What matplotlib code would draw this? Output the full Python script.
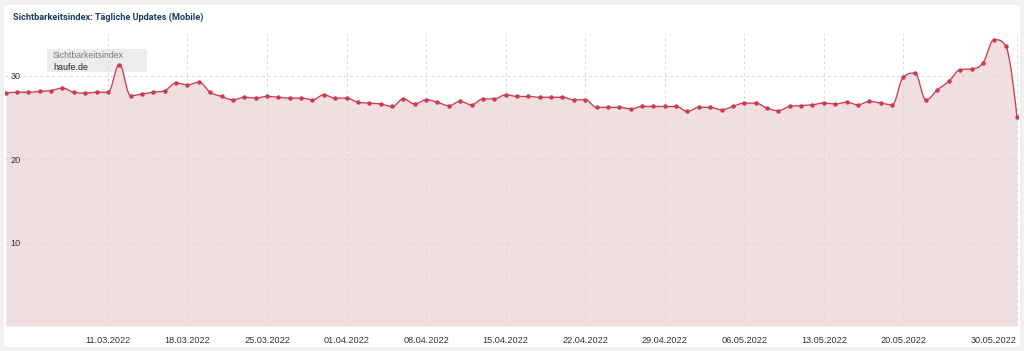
import numpy as np
import pandas as pd
import matplotlib
matplotlib.use("Agg")
import matplotlib.pyplot as plt
import matplotlib.dates as mdates
from matplotlib.patches import FancyBboxPatch

start_date = "2022-03-02"
sichtbarkeit = [
    27.9, 28.0, 28.0, 28.1, 28.2, 28.5, 28.0, 27.9, 28.0, 28.0,
    31.3, 27.6, 27.8, 28.0, 28.2, 29.1, 28.9, 29.2, 28.0, 27.5,
    27.1, 27.4, 27.3, 27.5, 27.4, 27.3, 27.3, 27.1, 27.7, 27.3,
    27.3, 26.8, 26.7, 26.6, 26.3, 27.2, 26.6, 27.1, 26.8, 26.4,
    26.9, 26.5, 27.2, 27.2, 27.7, 27.5, 27.5, 27.4, 27.4, 27.4,
    27.1, 27.1, 26.2, 26.2, 26.2, 26.0, 26.3, 26.3, 26.3, 26.3,
    25.7, 26.2, 26.2, 25.9, 26.3, 26.7, 26.7, 26.1, 25.8, 26.3,
    26.4, 26.5, 26.7, 26.6, 26.8, 26.5, 26.9, 26.7, 26.5, 29.8,
    30.3, 27.1, 28.3, 29.3, 30.7, 30.8, 31.5, 34.3, 33.6, 25.0,
]
tick_dates = ["2022-03-11", "2022-03-18", "2022-03-25", "2022-04-01",
              "2022-04-08", "2022-04-15", "2022-04-22", "2022-04-29",
              "2022-05-06", "2022-05-13", "2022-05-20", "2022-05-30"]
y_ticks = [10, 20, 30]

line_color = "#cc3a50"
fill_color = "#efd9dc"


def spline(x, y, smoothing=1.5, steps=24):
    # highcharts-like spline through the points
    n = len(x)
    lc = [(x[i], y[i]) for i in range(n)]
    rc = [(x[i], y[i]) for i in range(n)]
    d = smoothing + 1
    for i in range(1, n - 1):
        lx = (smoothing * x[i] + x[i - 1]) / d
        ly = (smoothing * y[i] + y[i - 1]) / d
        rx = (smoothing * x[i] + x[i + 1]) / d
        ry = (smoothing * y[i] + y[i + 1]) / d
        corr = ((ry - ly) * (rx - x[i])) / (rx - lx) + y[i] - ry
        ly += corr
        ry += corr
        if ly > y[i - 1] and ly > y[i]:
            ly = max(y[i - 1], y[i]); ry = 2 * y[i] - ly
        elif ly < y[i - 1] and ly < y[i]:
            ly = min(y[i - 1], y[i]); ry = 2 * y[i] - ly
        if ry > y[i + 1] and ry > y[i]:
            ry = max(y[i + 1], y[i]); ly = 2 * y[i] - ry
        elif ry < y[i + 1] and ry < y[i]:
            ry = min(y[i + 1], y[i]); ly = 2 * y[i] - ry
        lc[i] = (lx, ly)
        rc[i] = (rx, ry)
    t = np.linspace(0, 1, steps)[:, None]
    pts = [np.array([[x[0], y[0]]])]
    for i in range(1, n):
        p0 = np.array([x[i - 1], y[i - 1]])
        p1 = np.array(rc[i - 1])
        p2 = np.array(lc[i])
        p3 = np.array([x[i], y[i]])
        seg = ((1 - t) ** 3) * p0 + 3 * ((1 - t) ** 2) * t * p1 \
            + 3 * (1 - t) * t ** 2 * p2 + t ** 3 * p3
        pts.append(seg[1:])
    pts = np.vstack(pts)
    return pts[:, 0], pts[:, 1]


dates = pd.date_range(start_date, periods=len(sichtbarkeit))
xnum = mdates.date2num(dates.to_pydatetime())
sx, sy = spline(list(xnum), sichtbarkeit)

W, H = 1024, 351
fig = plt.figure(figsize=(W / 100, H / 100), dpi=100, facecolor="#f2f2f2")

card = FancyBboxPatch((3 / W, 3 / H), 1018 / W, 344 / H,
                      boxstyle="round,pad=0,rounding_size=0.006",
                      transform=fig.transFigure, facecolor="white",
                      edgecolor="#e4e4e4", linewidth=0.6, zorder=0)
fig.patches.append(card)
fig.lines.append(plt.Line2D([3 / W, 1021 / W], [1 - 32 / H, 1 - 32 / H],
                            transform=fig.transFigure, color="#eeeeee", lw=1,
                            zorder=0))

fig.text(13 / W, 1 - 17 / H, "Sichtbarkeitsindex: Tägliche Updates (Mobile)",
         fontsize=6.6, fontweight="bold", color="#1d3a66",
         family="Roboto", va="center", ha="left")

# legend-like label box, behind the series
box = FancyBboxPatch((47 / W, 1 - 72 / H), 100 / W, 23 / H,
                     boxstyle="round,pad=0,rounding_size=0.004",
                     transform=fig.transFigure, facecolor="#ececec",
                     edgecolor="none", zorder=0.5)
fig.patches.append(box)
fig.text(53 / W, 1 - 56 / H, "Sichtbarkeitsindex", fontsize=6.2,
         color="#777777", family="Liberation Sans", va="center", zorder=0.6)
fig.text(53 / W, 1 - 67 / H, "haufe.de", fontsize=6.4, color="#222222",
         family="Liberation Sans", va="center", zorder=0.6)

ax = fig.add_axes([5 / W, 1 - 326 / H, 1013 / W, 293 / H])
ax.set_zorder(1)
ax.set_facecolor("none")

ax.fill_between(sx, sy, 0, color=fill_color, alpha=0.85, lw=0, zorder=1)
ax.plot(sx, sy, color=line_color, lw=0.95, zorder=3)
ax.plot(xnum, sichtbarkeit, "o", color=line_color, ms=3.2, mew=0, zorder=4)

day = 1.0 / 11.36
ax.set_xlim(xnum[0] - 0.06, xnum[-1] + day)
ax.set_ylim(0, 35.1)

ax.set_xticks(mdates.date2num(pd.to_datetime(tick_dates).to_pydatetime()))
ax.xaxis.set_major_formatter(mdates.DateFormatter("%d.%m.%Y"))
ax.set_yticks(y_ticks)
ax.set_yticklabels([str(v) for v in y_ticks])
ax.tick_params(axis="x", length=0, pad=7, labelsize=6.6, labelcolor="#333333")
ax.tick_params(axis="y", length=0, pad=-4, labelsize=6.6, labelcolor="#333333")
for lab in ax.get_yticklabels():
    lab.set_horizontalalignment("left")
    lab.set_family("Liberation Sans")
xlabs = ax.get_xticklabels()
for lab in xlabs:
    lab.set_family("Liberation Sans")
xlabs[-1].set_horizontalalignment("right")

ax.grid(True, color="#d9d9d9", lw=0.7, ls=(0, (3, 3)), zorder=2)
for s in ax.spines.values():
    s.set_visible(False)

fig.savefig("out.png", dpi=100, facecolor=fig.get_facecolor())
